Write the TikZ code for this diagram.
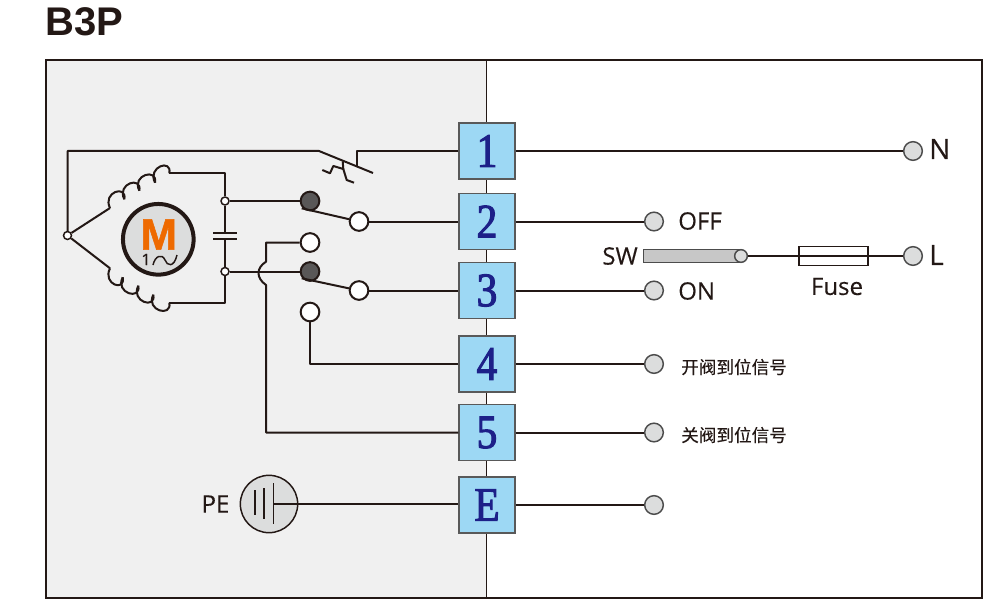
\documentclass[tikz,border=0pt]{standalone}
\usepackage{fontspec}
\setmainfont{Open Sans}[FakeBold=0.25]
\newfontfamily\headfont{Liberation Sans}
\newfontfamily\motorfont{Liberation Sans}[FakeBold=1.2]
\newfontfamily\termfont{Liberation Serif}[FakeBold=2.2, FakeStretch=0.86]
\newfontfamily\cjk{Noto Sans CJK SC}[FakeBold=0.2]
\usetikzlibrary{calc}
\definecolor{inkc}{HTML}{231815}
\definecolor{panelc}{HTML}{F0F0F0}
\definecolor{termc}{HTML}{9DD8F4}
\definecolor{digitc}{HTML}{1D2088}
\definecolor{greyc}{HTML}{DCDDDD}
\definecolor{darkc}{HTML}{595757}
\definecolor{orangec}{HTML}{EE6A00}
\def\humpup(#1)(#2){\draw[wire] (#1) .. controls +(-8,-16) and +(3,-15) .. (#2);}
\def\humpdown(#1)(#2){\draw[wire] (#1) .. controls +(-8,16) and +(3,15) .. (#2);}
\tikzset{
	wire/.style={line width=1.5pt, color=inkc, line join=round},
	termbox/.style={draw=black!65, line width=0.8pt, fill=termc, minimum size=42pt, inner sep=0pt, text=digitc, font=\termfont\fontsize{36}{36}\selectfont},
	lamp/.style={circle, draw=black!70, line width=1.1pt, fill=greyc, minimum size=14pt, inner sep=0pt},
	contact/.style={circle, draw=inkc, line width=1.5pt, fill=white, minimum size=14pt, inner sep=0pt},
	closedc/.style={contact, fill=darkc},
	joint/.style={circle, draw=inkc, line width=1.1pt, fill=white, minimum size=6pt, inner sep=0pt},
	tag/.style={text=inkc, inner sep=0pt, font=\fontsize{18}{18}\selectfont},
	cjktag/.style={text=inkc, inner sep=0pt, anchor=west, font=\cjk\fontsize{13.2}{13.2}\selectfont},
}

\begin{document}
\begin{tikzpicture}[x=0.75pt, y=-0.75pt]
	%%%%% START %%%%%
	\useasboundingbox (0, 0) rectangle (988, 606);

	\node[anchor=base west, inner sep=0pt, text=inkc, font=\headfont\bfseries\fontsize{30}{30}\selectfont] (title) at (45, 36) {B3P};

	\fill[panelc] (46, 60) rectangle (486, 598);
	\draw[line width=0.8pt, color=inkc] (486.5, 60) -- (486.5, 598);
	\draw[line width=1.5pt, color=inkc] (46, 60) rectangle (982, 598);

	\node[termbox] (t1) at (487, 151) {1};
	\node[termbox] (t2) at (487, 221.5) {2};
	\node[termbox] (t3) at (487, 290.5) {3};
	\node[termbox] (t4) at (487, 364) {4};
	\node[termbox] (t5) at (487, 432.5) {5};
	\node[termbox] (tE) at (487, 505) {E};

	\node[lamp] (lN) at (913, 151) {};
	\node[lamp] (lL) at (913, 256) {};
	\node[lamp] (lOff) at (654, 221.5) {};
	\node[lamp] (lOn) at (654, 290.5) {};
	\node[lamp] (l4) at (654, 364) {};
	\node[lamp] (l5) at (654, 432.5) {};
	\node[lamp] (lE) at (654, 505) {};

	\draw[wire] (t1) -- (lN);
	\draw[wire] (t2) -- (lOff);
	\draw[wire] (t3) -- (lOn);
	\draw[wire] (t4) -- (l4);
	\draw[wire] (t5) -- (l5);
	\draw[wire] (tE) -- (lE);

	\node[tag, anchor=west, font=\fontsize{21}{21}\selectfont] (nN) at (929, 149) {N};
	\node[tag, anchor=west, font=\fontsize{21}{21}\selectfont] (nL) at (929, 255) {L};
	\node[tag, anchor=west] (nOff) at (678, 221) {OFF};
	\node[tag, anchor=west] (nOn) at (678, 291) {ON};
	\node[tag, anchor=east] (nSw) at (638, 256) {SW};
	\node[tag] (nFuse) at (837, 286.5) {Fuse};
	\node[cjktag] (n4) at (681, 367) {开阀到位信号};
	\node[cjktag] (n5) at (681, 435) {关阀到位信号};

	\node[draw=black!70, line width=1pt, fill=black!22, minimum width=72.5pt, minimum height=9.5pt, inner sep=0pt, anchor=west] (swbar) at (643, 256) {};
	\node[lamp, minimum size=9.5pt] (swend) at (741, 256) {};
	\node[draw=inkc, line width=1.1pt, minimum width=51.5pt, minimum height=14pt, inner sep=0pt] (fuse) at (833.5, 256) {};
	\draw[wire] (swend) -- (lL);

	\node[contact] (p2) at (359, 221.5) {};
	\node[contact] (p3) at (359, 290.5) {};
	\node[closedc] (d1) at (310, 201) {};
	\node[closedc] (d2) at (310, 271.5) {};
	\node[contact] (o1) at (310, 242.5) {};
	\node[contact] (o2) at (310, 312) {};

	\node[joint] (j0) at (67.5, 235.5) {};
	\node[joint] (j1) at (225, 201) {};
	\node[joint] (j2) at (225, 271.5) {};

	\coordinate (a2) at (301.7, 208.3);
	\coordinate (a3) at (301.7, 278.3);
	\draw[wire] (a2) -- (p2);
	\draw[wire] (a3) -- (p3);
	\draw[wire] (p2) -- (t2);
	\draw[wire] (p3) -- (t3);
	\draw[wire] (j1) -- (d1);
	\draw[wire] (j2) -- (d2);

	\draw[wire] (o2) |- (t4);
	\coordinate (h1) at (266, 261.7);
	\coordinate (h2) at (266, 285);
	\draw[wire] (o1) -| (h1) .. controls (256, 268) and (256, 278) .. (h2) |- (t5);

	% thermal cut-out
	\coordinate (s1) at (319, 151);
	\coordinate (s2) at (373, 173);
	\coordinate (s3) at (357, 151);
	\coordinate (s4) at (357, 166.5);
	\draw[wire] (j0) |- (s1) -- (s2);
	\draw[wire] (t1) -- (s3) -- (s4);
	\draw[wire] (342.7, 161.5) -- (343.3, 169) -- (333.3, 166) -- (330, 173.3) -- (322.3, 170);
	\draw[wire] (343.3, 169) -- (346.7, 180) -- (354, 182.7);

	% windings
	\coordinate (u0) at (110, 208);
	\coordinate (u1) at (124.3, 199.3);
	\coordinate (u2) at (139.3, 190.7);
	\coordinate (u3) at (155, 182.7);
	\coordinate (u4) at (169.3, 173.3);
	\foreach \p/\q in {u0/u1, u1/u2, u2/u3, u3/u4} {
		\humpup(\p)(\q)
	}
	\coordinate (w0) at (110, 268.3);
	\coordinate (w1) at (122.7, 277.3);
	\coordinate (w2) at (138.3, 285.7);
	\coordinate (w3) at (153.3, 294.7);
	\coordinate (w4) at (169.3, 302.7);
	\foreach \p/\q in {w0/w1, w1/w2, w2/w3, w3/w4} {
		\humpdown(\p)(\q)
	}
	\draw[wire] (j0) -- (u0);
	\draw[wire] (j0) -- (w0);
	\draw[wire] (u4) -| (j1);
	\draw[wire] (w4) -| (j2);

	% capacitor
	\coordinate (c1) at (225, 233.3);
	\coordinate (c2) at (225, 239);
	\draw[wire] (j1) -- (c1);
	\draw[wire] (j2) -- (c2);
	\draw[wire] (213.3, 233.3) -- (236.7, 233.3);
	\draw[wire] (213.3, 239) -- (236.7, 239);

	% motor
	\node[circle, draw=inkc, line width=3pt, fill=greyc, minimum size=53pt, inner sep=0pt] (motor) at (158.3, 239.3) {};
	\node[inner sep=0pt, text=orangec, font=\motorfont\bfseries\fontsize{33}{33}\selectfont] (mLetter) at (158.7, 234.5) {M};
	\node[inner sep=0pt, text=inkc, font=\fontsize{12}{12}\selectfont] (mOne) at (146, 259.5) {1};
	\draw[line width=1.1pt, color=inkc] (153, 265) .. controls (155, 256) and (162, 253) .. (165, 260) .. controls (167, 266) and (174, 268) .. (177, 255);

	% earth
	\node[circle, draw=inkc, line width=1.1pt, fill=greyc, minimum size=43pt, inner sep=0pt] (earth) at (269, 504) {};
	\coordinate (e0) at (273.3, 504);
	\draw[line width=1.1pt, color=inkc] (255, 490) -- (255, 515);
	\draw[line width=1.1pt, color=inkc] (264, 488) -- (264, 519);
	\draw[line width=1.1pt, color=inkc] (273.3, 483) -- (273.3, 524);
	\draw[wire] (e0) -- (tE.west |- e0);
	\node[tag] (nPe) at (215.5, 504) {PE};
	%%%%% END %%%%%
\end{tikzpicture}
\end{document}
